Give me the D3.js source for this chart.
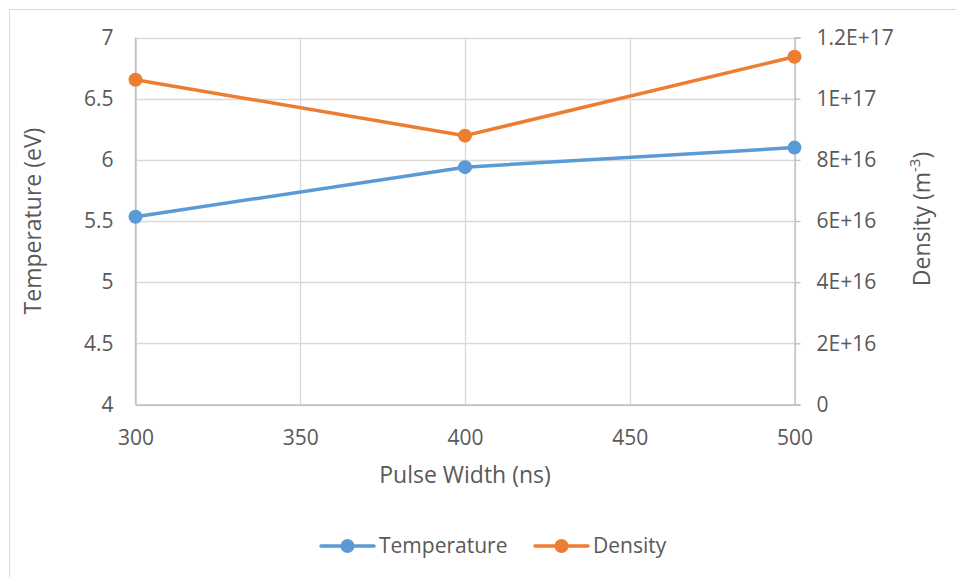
<!DOCTYPE html>
<html>
<head>
<meta charset="utf-8">
<script src="https://cdn.jsdelivr.net/npm/d3@7"></script>
<style>
  html, body { margin: 0; padding: 0; background: #fff; }
  svg text { font-family: "Open Sans", "Liberation Sans", sans-serif; fill: #595959; }
</style>
</head>
<body>
<svg id="chart" width="956" height="577"></svg>
<script>
// Plasma measurements vs. pulse width
const pulseWidths = [300, 400, 500];
const temperature = [5.535, 5.94, 6.10];          // eV
const density = [1.062e17, 0.879e17, 1.137e17];   // m^-3

const xTicks = [300, 350, 400, 450, 500];
const tempTicks = [4, 4.5, 5, 5.5, 6, 6.5, 7];
const densTicks = [0, 2e16, 4e16, 6e16, 8e16, 1e17, 1.2e17];
const densTickLabels = ["0", "2E+16", "4E+16", "6E+16", "8E+16", "1E+17", "1.2E+17"];

const seriesNames = ["Temperature", "Density"];
const seriesColors = ["#5b9bd5", "#ed7d31"];

const svg = d3.select("#chart");

// outer chart frame
svg.append("rect")
  .attr("x", 9.5).attr("y", 9.5)
  .attr("width", 960).attr("height", 580)
  .attr("fill", "none").attr("stroke", "#d9d9d9").attr("stroke-width", 1);

const plot = { left: 135.5, right: 794.5, top: 37.5, bottom: 404.5 };

const x = d3.scaleLinear().domain([300, 500]).range([plot.left, plot.right]);
const yT = d3.scaleLinear().domain([4, 7]).range([plot.bottom, plot.top]);
const yD = d3.scaleLinear().domain([0, 1.2e17]).range([plot.bottom, plot.top]);

// gridlines
const grid = svg.append("g");
grid.selectAll("line.h").data(tempTicks).join("line")
  .attr("x1", plot.left).attr("x2", plot.right)
  .attr("y1", d => Math.round(yT(d)) + 0.5).attr("y2", d => Math.round(yT(d)) + 0.5)
  .attr("stroke", "#d9d9d9").attr("stroke-width", 1.3);
grid.selectAll("line.v").data(xTicks).join("line")
  .attr("y1", plot.top).attr("y2", plot.bottom)
  .attr("x1", d => Math.round(x(d)) + 0.5).attr("x2", d => Math.round(x(d)) + 0.5)
  .attr("stroke", "#d9d9d9").attr("stroke-width", 1.3);

const FONT = '"Open Sans", "Liberation Sans", sans-serif';
const axisStyle = g => {
  g.select(".domain").attr("stroke", "#bfbfbf").attr("stroke-width", 1.3);
  g.selectAll(".tick line").attr("stroke", "#bfbfbf").attr("stroke-width", 1.3);
  g.selectAll("text").attr("font-size", 21).attr("fill", "#595959").attr("font-family", FONT);
};

// axes
svg.append("g")
  .attr("transform", `translate(0,${plot.bottom})`)
  .call(d3.axisBottom(x).tickValues(xTicks).tickSize(0).tickPadding(22).tickFormat(d3.format("d")))
  .call(axisStyle)
  .call(g => g.selectAll("text").attr("dy", "0.35em").attr("y", 33));

svg.append("g")
  .attr("transform", `translate(${plot.left},0)`)
  .call(d3.axisLeft(yT).tickValues(tempTicks).tickSize(0).tickPadding(22).tickFormat(d => String(d)))
  .call(axisStyle)
  .call(g => g.select(".domain").remove());

svg.append("g")
  .attr("transform", `translate(${plot.right},0)`)
  .call(d3.axisRight(yD).tickValues(densTicks).tickSize(6).tickPadding(16)
    .tickFormat((d, i) => densTickLabels[i]))
  .call(axisStyle);

// left axis line (drawn over the grid)
svg.append("line")
  .attr("x1", plot.left).attr("x2", plot.left)
  .attr("y1", plot.top).attr("y2", plot.bottom)
  .attr("stroke", "#bfbfbf").attr("stroke-width", 1.3);

// axis titles
svg.append("text")
  .attr("x", (plot.left + plot.right) / 2).attr("y", 475).attr("dy", "0.35em")
  .attr("text-anchor", "middle").attr("font-size", 23)
  .text("Pulse Width (ns)");

svg.append("text")
  .attr("transform", `translate(33,${(plot.top + plot.bottom) / 2}) rotate(-90)`)
  .attr("dy", "0.35em")
  .attr("text-anchor", "middle").attr("font-size", 23)
  .text("Temperature (eV)");

const dTitle = svg.append("text")
  .attr("transform", `translate(922,${(plot.top + plot.bottom) / 2 - 2}) rotate(-90)`)
  .attr("dy", "0.35em")
  .attr("text-anchor", "middle").attr("font-size", 23);
dTitle.append("tspan").text("Density (m");
dTitle.append("tspan").attr("baseline-shift", "super").attr("font-size", 15).text("-3");
dTitle.append("tspan").text(")");

// series
const series = [
  { name: seriesNames[0], color: seriesColors[0], values: temperature, y: yT },
  { name: seriesNames[1], color: seriesColors[1], values: density, y: yD }
];

series.forEach(s => {
  const pts = pulseWidths.map((p, i) => [x(p), s.y(s.values[i])]);
  svg.append("path")
    .attr("d", d3.line()(pts))
    .attr("fill", "none").attr("stroke", s.color)
    .attr("stroke-width", 3.5).attr("stroke-linejoin", "round").attr("stroke-linecap", "round");
  svg.selectAll(null).data(pts).join("circle")
    .attr("cx", d => d[0]).attr("cy", d => d[1]).attr("r", 7)
    .attr("fill", s.color);
});

// legend
const legend = svg.append("g");
const legendItems = [
  { x: 321, name: seriesNames[0], color: seriesColors[0] },
  { x: 535, name: seriesNames[1], color: seriesColors[1] }
];
legendItems.forEach(it => {
  const g = legend.append("g").attr("transform", `translate(${it.x},546)`);
  g.append("line").attr("x1", 0).attr("x2", 53).attr("y1", 0).attr("y2", 0)
    .attr("stroke", it.color).attr("stroke-width", 3.5).attr("stroke-linecap", "round");
  g.append("circle").attr("cx", 26.5).attr("cy", 0).attr("r", 7).attr("fill", it.color);
  g.append("text").attr("x", 58).attr("y", 0).attr("dy", "0.35em")
    .attr("font-size", 21).text(it.name);
});
</script>
</body>
</html>
